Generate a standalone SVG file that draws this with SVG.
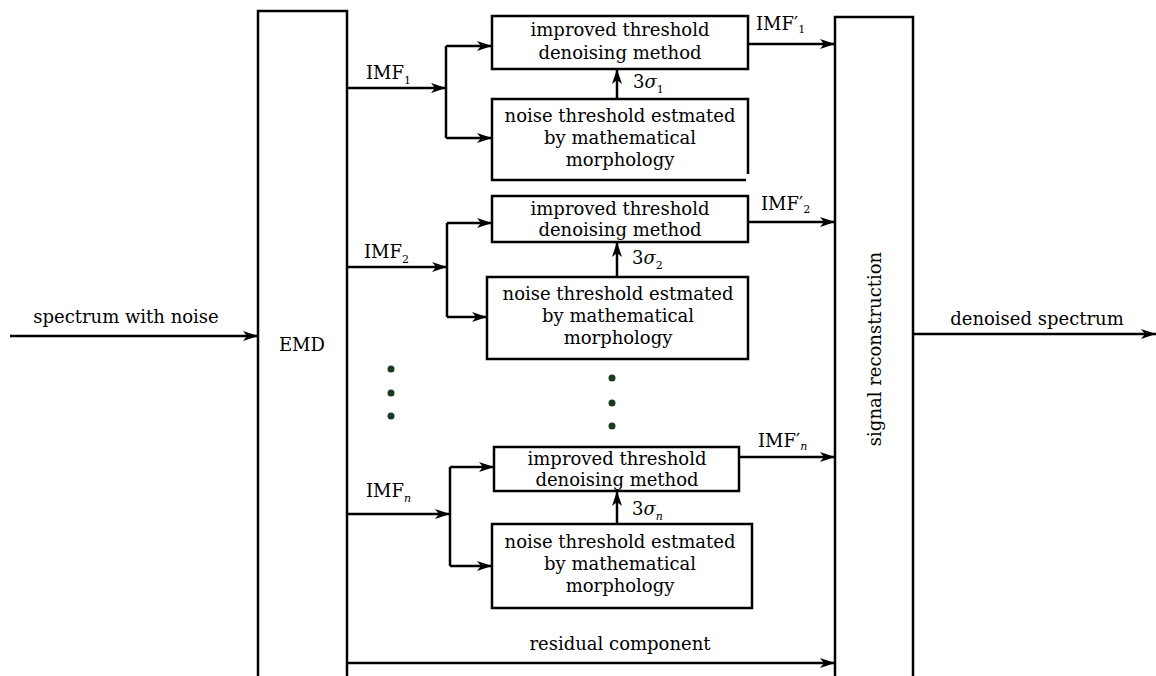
<svg xmlns="http://www.w3.org/2000/svg" width="1156" height="676" viewBox="0 0 1156 676">
<style>
.box{fill:none;stroke:#000;stroke-width:2.5}
.ln{fill:none;stroke:#000;stroke-width:2.5}
.ar{marker-end:url(#ah)}
text{font-family:"DejaVu Serif","Liberation Serif",serif;font-size:18px;fill:#000}
.c{text-anchor:middle}
.sub{font-size:11px}
.it{font-style:italic}
.dot{fill:#1c3a22}
</style>
<defs>
<marker id="ah" markerUnits="userSpaceOnUse" markerWidth="16" markerHeight="10" refX="15" refY="5" orient="auto">
<path d="M0,0 L15,5 L0,10 L4,5 Z" fill="#000"/>
</marker>
</defs>
<rect width="1156" height="676" fill="#fff"/>

<g id="emd">
<path class="box" d="M258,676 V11 H347 V676"/>
<text x="302" y="351" class="c">EMD</text>
</g>

<g id="recon">
<path class="box" d="M835,676 V17 H913 V676"/>
<text transform="translate(881,349) rotate(-90)" class="c">signal reconstruction</text>
</g>

<g id="thr1">
<rect class="box" x="492" y="16" width="256" height="53"/>
<text x="620" y="36" class="c">improved threshold</text>
<text x="620" y="59" class="c">denoising method</text>
</g>
<g id="est1">
<path class="box" d="M748,174 V99 H492 V180 H746"/>
<text x="620" y="122" class="c">noise threshold estmated</text>
<text x="620" y="144" class="c">by mathematical</text>
<text x="620" y="166" class="c">morphology</text>
</g>

<g id="thr2">
<rect class="box" x="492" y="196" width="256" height="46"/>
<text x="620" y="215" class="c">improved threshold</text>
<text x="620" y="236" class="c">denoising method</text>
</g>
<g id="est2">
<rect class="box" x="487" y="277" width="261" height="82"/>
<text x="618" y="300" class="c">noise threshold estmated</text>
<text x="618" y="322" class="c">by mathematical</text>
<text x="618" y="344" class="c">morphology</text>
</g>

<g id="thrn">
<rect class="box" x="494" y="447" width="245" height="44"/>
<text x="617" y="465" class="c">improved threshold</text>
<text x="617" y="486" class="c">denoising method</text>
</g>
<g id="estn">
<rect class="box" x="492" y="524" width="260" height="84"/>
<text x="620" y="548" class="c">noise threshold estmated</text>
<text x="620" y="570" class="c">by mathematical</text>
<text x="620" y="592" class="c">morphology</text>
</g>

<g id="dots">
<circle class="dot" cx="391" cy="369" r="3.5"/>
<circle class="dot" cx="391" cy="393" r="3.5"/>
<circle class="dot" cx="391" cy="416" r="3.5"/>
<circle class="dot" cx="612" cy="378" r="3.5"/>
<circle class="dot" cx="612" cy="403" r="3.5"/>
<circle class="dot" cx="612" cy="426" r="3.5"/>
</g>

<g id="connectors">
<line class="ln ar" x1="10" y1="336" x2="258" y2="336"/>
<line class="ln ar" x1="913" y1="334" x2="1156" y2="334"/>

<line class="ln ar" x1="347" y1="88" x2="446" y2="88"/>
<path class="ln" d="M446,46 V138"/>
<line class="ln ar" x1="446" y1="46" x2="492" y2="46"/>
<line class="ln ar" x1="446" y1="138" x2="492" y2="138"/>
<line class="ln ar" x1="617" y1="99" x2="617" y2="69"/>
<line class="ln ar" x1="748" y1="44" x2="835" y2="44"/>

<line class="ln ar" x1="347" y1="267" x2="447" y2="267"/>
<path class="ln" d="M447,223 V317"/>
<line class="ln ar" x1="447" y1="223" x2="492" y2="223"/>
<line class="ln ar" x1="447" y1="317" x2="487" y2="317"/>
<line class="ln ar" x1="617" y1="277" x2="617" y2="242"/>
<line class="ln ar" x1="748" y1="222" x2="835" y2="222"/>

<line class="ln ar" x1="347" y1="514" x2="450" y2="514"/>
<path class="ln" d="M450,467 V566"/>
<line class="ln ar" x1="450" y1="467" x2="494" y2="467"/>
<line class="ln ar" x1="450" y1="566" x2="492" y2="566"/>
<line class="ln ar" x1="617" y1="524" x2="617" y2="491"/>
<line class="ln ar" x1="739" y1="457" x2="835" y2="457"/>

<line class="ln ar" x1="347" y1="663" x2="835" y2="663"/>
</g>

<g id="labels">
<text x="126" y="323" class="c">spectrum with noise</text>
<text x="1037" y="325" class="c">denoised spectrum</text>
<text x="366" y="79">IMF<tspan class="sub" dy="5">1</tspan></text>
<text x="364" y="258">IMF<tspan class="sub" dy="5">2</tspan></text>
<text x="366" y="497">IMF<tspan class="sub it" dy="5">n</tspan></text>
<text x="633" y="88">3<tspan class="it">σ</tspan><tspan class="sub" dy="5">1</tspan></text>
<text x="632" y="264">3<tspan class="it">σ</tspan><tspan class="sub" dy="5">2</tspan></text>
<text x="632" y="515">3<tspan class="it">σ</tspan><tspan class="sub it" dy="5">n</tspan></text>
<text x="756" y="30">IMF′<tspan class="sub" dy="3">1</tspan></text>
<text x="761" y="210">IMF′<tspan class="sub" dy="3">2</tspan></text>
<text x="758" y="447">IMF′<tspan class="sub it" dy="3">n</tspan></text>
<text x="620" y="650" class="c">residual component</text>
</g>
</svg>
